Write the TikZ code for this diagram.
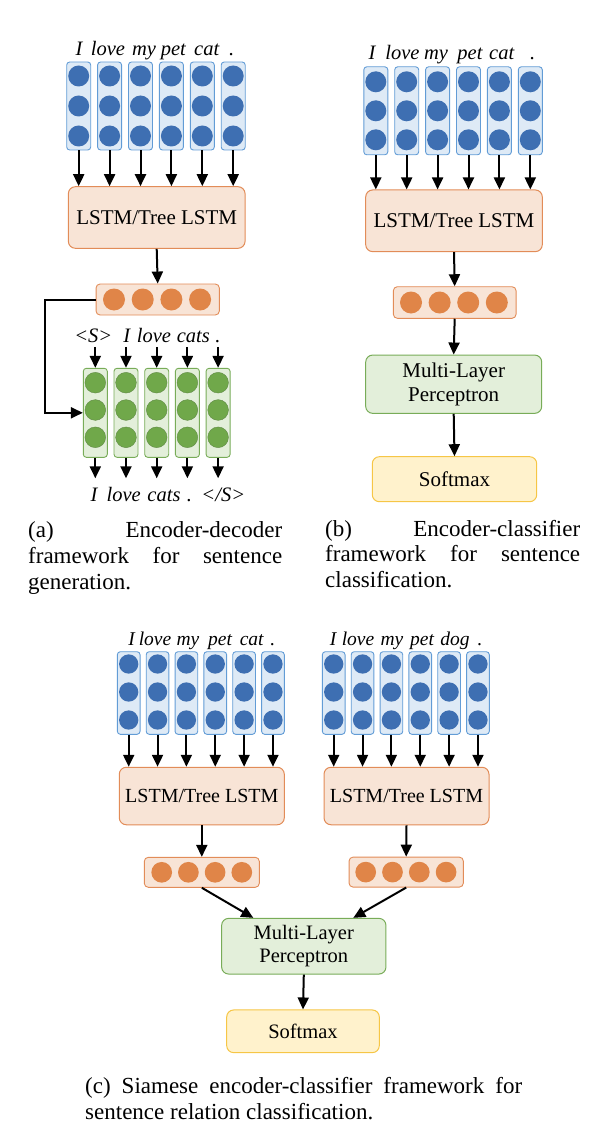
\documentclass[tikz,border=0pt]{standalone}
\usepackage{fontspec}
\setmainfont{Liberation Serif}
\usetikzlibrary{arrows.meta,calc}
\definecolor{bluedot}{RGB}{62,111,178}
\definecolor{bluefill}{RGB}{222,234,246}
\definecolor{blueline}{RGB}{98,156,214}
\definecolor{orangedot}{RGB}{224,133,72}
\definecolor{orangefill}{RGB}{248,228,214}
\definecolor{orangeline}{RGB}{226,140,88}
\definecolor{greendot}{RGB}{112,168,74}
\definecolor{greenfill}{RGB}{227,239,218}
\definecolor{greenline}{RGB}{120,172,88}
\definecolor{yellowfill}{RGB}{255,242,204}
\definecolor{yellowline}{RGB}{246,198,70}
\hyphenpenalty=10000
\exhyphenpenalty=10000
\tolerance=10000
\begin{document}
\begin{tikzpicture}[x=1pt,y=-1pt,
  wvec/.style={draw=blueline,fill=bluefill,line width=0.9pt,rounded corners=3pt,inner sep=0pt,minimum width=24pt,minimum height=88pt},
  bdot/.style={circle,fill=bluedot,inner sep=0pt,minimum size=21pt},
  gvec/.style={draw=greenline,fill=greenfill,line width=0.9pt,rounded corners=3pt,inner sep=0pt,minimum width=24pt,minimum height=89pt},
  gdot/.style={circle,fill=greendot,draw=greenline!80!black,line width=0.4pt,inner sep=0pt,minimum size=20.7pt},
  hvec/.style={draw=orangeline,fill=orangefill,line width=0.9pt,rounded corners=4pt,inner sep=0pt,minimum height=31pt},
  odot/.style={circle,fill=orangedot,inner sep=0pt,minimum size=22pt},
  lstm/.style={draw=orangeline,fill=orangefill,line width=1pt,rounded corners=7pt,font=\fontsize{21}{24}\selectfont},
  mlp/.style={draw=greenline,fill=greenfill,line width=1pt,rounded corners=7pt,align=center,font=\fontsize{21}{24}\selectfont},
  soft/.style={draw=yellowline,fill=yellowfill,line width=1pt,rounded corners=7pt,font=\fontsize{21}{24}\selectfont},
  word/.style={anchor=base,inner sep=0pt,text depth=4pt,font=\fontsize{20.5}{22}\selectfont\itshape},
  captext/.style={anchor=base west,inner sep=0pt,font=\fontsize{23}{25.7}\selectfont},
  arr/.style={-{Triangle[length=12pt,width=11pt]},line width=2pt}]
\useasboundingbox (0,0) rectangle (614,1142);
\foreach \i in {0,...,5} {
  \node[wvec] (a\i) at (78.7+30.9*\i,106) {};
  \foreach \k in {1,2,3} \node[bdot] (ad\i\k) at (78.7+30.9*\i,106+30*\k-60) {};
}
\foreach \x/\w [count=\i from 0] in {79/I,108/love,144/my,173.3/pet,206.7/cat,231.7/.}
  \node[word] (aw\i) at (\x,56) {\w};
\node[lstm,minimum width=176.7pt,minimum height=61.6pt] (alstm) at (156.7,217.5) {LSTM/Tree LSTM};
\foreach \i in {0,...,5} \draw[arr] (a\i.south) -- (a\i.south |- alstm.north);
\node[hvec,minimum width=123.3pt] (aenc) at (157.7,299.5) {};
\foreach \k in {0,...,3} \node[odot] (ao\k) at (114+28.7*\k,299.5) {};
\draw[arr] (alstm.south) -- (aenc.north);
\foreach \i in {0,...,4} {
  \node[gvec] (g\i) at (95.3+30.7*\i,412.8) {};
  \foreach \k in {1,2,3} \node[gdot] (gd\i\k) at (95.3+30.7*\i,410+27.3*\k-54.6) {};
  \coordinate (ge\i) at (95.3+30.7*\i,478.3);
  \draw[arr] (g\i.south) -- (ge\i);
}
\foreach \x/\w [count=\i from 0] in {93.3/{<S>},126.7/I,154/love,193.3/cats,218/.} {
  \node[word] (gw\i) at (\x,342.7) {\w};
  \draw[arr] (g\i.north |- gw\i.south) -- (g\i.north);
}
\foreach \x/\w [count=\i from 0] in {94/I,123.7/love,164/cats,189.5/.,223.3/{</S>}}
  \node[word] (go\i) at (\x,501.7) {\w};
\draw[arr] (aenc.west) -- ++(-51,0) |- (g0.west);
\node[captext] (capa) at (28,537.7) {\parbox[t]{254pt}{(a) Encoder-decoder framework for sentence generation.}};
\foreach \i in {0,...,5} {
  \node[wvec] (b\i) at (375.8+30.9*\i,110.8) {};
  \foreach \k in {1,2,3} \node[bdot] (bd\i\k) at (375.8+30.9*\i,110.8+29*\k-58) {};
}
\foreach \x/\w [count=\i from 0] in {372/I,402.5/love,436/my,470/pet,501.7/cat,532.7/.}
  \node[word] (bw\i) at (\x,60) {\w};
\node[lstm,minimum width=176.6pt,minimum height=61.7pt] (blstm) at (454,220.8) {LSTM/Tree LSTM};
\foreach \i in {0,...,5} \draw[arr] (b\i.south) -- (b\i.south |- blstm.north);
\node[hvec,minimum width=122.7pt,minimum height=31.6pt] (benc) at (454.7,302.5) {};
\foreach \k in {0,...,3} \node[odot] (bo\k) at (411+28.6*\k,302.5) {};
\node[mlp,minimum width=176pt,minimum height=58.3pt] (bmlp) at (453.7,384.2) {Multi-Layer\\Perceptron};
\node[soft,minimum width=164.4pt,minimum height=45pt] (bsoft) at (454.5,479.2) {Softmax};
\draw[arr] (blstm.south) -- (benc.north);
\draw[arr] (benc.south) -- (bmlp.north);
\draw[arr] (bmlp.south) -- (bsoft.north);
\node[captext] (capb) at (325,536) {\parbox[t]{255pt}{(b) Encoder-classifier framework for sentence classification.}};
\foreach \i in {0,...,5} {
  \node[wvec,minimum width=22.7pt,minimum height=82.6pt] (cl\i) at (128.7+28.85*\i,693) {};
  \foreach \k in {1,2,3} \node[bdot,minimum size=19.3pt] (cld\i\k) at (128.7+28.85*\i,692+28*\k-56) {};
  \node[wvec,minimum width=22.7pt,minimum height=82.6pt] (cr\i) at (333.7+28.85*\i,693) {};
  \foreach \k in {1,2,3} \node[bdot,minimum size=19.3pt] (crd\i\k) at (333.7+28.85*\i,692+28*\k-56) {};
}
\foreach \x/\w [count=\i from 0] in {131.7/I,155/love,188/my,220/pet,251.7/cat,272.7/.}
  \node[word,font=\fontsize{19.5}{22}\selectfont\itshape] (clw\i) at (\x,645) {\w};
\foreach \x/\w [count=\i from 0] in {333/I,358/love,392/my,422/pet,455/dog,480/.}
  \node[word,font=\fontsize{19.5}{22}\selectfont\itshape] (crw\i) at (\x,645) {\w};
\node[lstm,minimum width=165pt,minimum height=57.5pt,font=\fontsize{20}{23}\selectfont] (cllstm) at (201.8,796) {LSTM/Tree LSTM};
\node[lstm,minimum width=165pt,minimum height=57.5pt,font=\fontsize{20}{23}\selectfont] (crlstm) at (406.5,796) {LSTM/Tree LSTM};
\foreach \i in {0,...,5} {
  \draw[arr] (cl\i.south) -- (cl\i.south |- cllstm.north);
  \draw[arr] (cr\i.south) -- (cr\i.south |- crlstm.north);
}
\node[hvec,minimum width=115pt,minimum height=30pt] (clenc) at (201.8,872.3) {};
\foreach \k in {0,...,3} \node[odot,minimum size=20.7pt] (clo\k) at (161.7+26.7*\k,872.3) {};
\node[hvec,minimum width=114.3pt,minimum height=30pt] (crenc) at (406.2,872.1) {};
\foreach \k in {0,...,3} \node[odot,minimum size=20.7pt] (cro\k) at (365.7+26.8*\k,872.1) {};
\draw[arr] (cllstm.south) -- (clenc.north);
\draw[arr] (crlstm.south) -- (crenc.north);
\node[mlp,minimum width=164.3pt,minimum height=55.7pt,font=\fontsize{20.5}{23.5}\selectfont] (cmlp) at (303.8,946.2) {Multi-Layer\\Perceptron};
\node[soft,minimum width=152.6pt,minimum height=42.7pt,font=\fontsize{20.5}{23.5}\selectfont] (csoft) at (303,1031.3) {Softmax};
\draw[arr] (clenc.south) -- ([xshift=-50.5pt]cmlp.north);
\draw[arr] (crenc.south) -- ([xshift=49.5pt]cmlp.north);
\draw[arr] (cmlp.south) -- (csoft.north);
\node[captext] (capc) at (85,1093.3) {\parbox[t]{437pt}{(c) Siamese encoder-classifier framework for sentence relation classification.}};
\end{tikzpicture}
\end{document}
